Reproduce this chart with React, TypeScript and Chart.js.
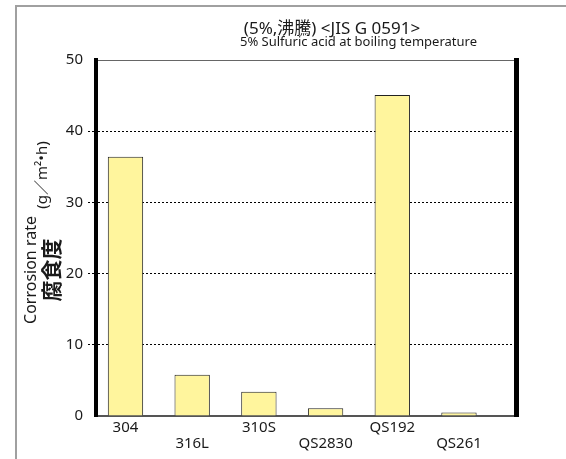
import React, { useEffect, useRef } from 'react';
import { Chart, registerables } from 'chart.js';

Chart.register(...registerables);

const categories = ['304', '316L', '310S', 'QS2830', 'QS192', 'QS261'];
const corrosionRates = [36.4, 5.8, 3.4, 1.1, 45.1, 0.5];
const yMin = 0;
const yMax = 50;
const yStep = 10;

const titleMain = '(5%,沸騰) <JIS G 0591>';
const titleSub = '5% Sulfuric acid at boiling temperature';
const yTitleEn = 'Corrosion rate';
const yTitleJa = '腐食度';
const yTitleUnit = '(g／m²•h)';

const FONT = "'Noto Sans', 'Noto Sans CJK JP', sans-serif";
const TEXT = '#1a1a1a';

export default function App() {
  const ref = useRef<HTMLCanvasElement>(null);

  useEffect(() => {
    if (!ref.current) return;
    Chart.defaults.font.family = FONT;
    Chart.defaults.color = TEXT;

    const textPlugin = {
      id: 'texts',
      afterDraw(chart: any) {
        const ctx = chart.ctx as CanvasRenderingContext2D;
        ctx.save();
        ctx.fillStyle = TEXT;
        ctx.textBaseline = 'alphabetic';
        ctx.font = `17px ${FONT}`;
        ctx.textAlign = 'center';
        ctx.fillText(titleMain, 332, 34);
        ctx.font = `13px ${FONT}`;
        ctx.textAlign = 'right';
        ctx.fillText(titleSub, 477, 46);
        const rot = (text: string, font: string, x: number, y: number) => {
          ctx.save();
          ctx.translate(x, y);
          ctx.rotate(-Math.PI / 2);
          ctx.font = font;
          ctx.textAlign = 'center';
          ctx.textBaseline = 'middle';
          ctx.fillText(text, 0, 0);
          ctx.restore();
        };
        rot(yTitleEn, `16px ${FONT}`, 31, 270);
        rot(yTitleJa, `bold 21px ${FONT}`, 53, 270);
        rot(yTitleUnit, `15px ${FONT}`, 43, 175);
        ctx.restore();
      },
    };

    const chart = new Chart(ref.current, {
      type: 'bar',
      data: {
        datasets: [
          {
            data: categories.map((_, i) => ({ x: i, y: corrosionRates[i] })),
            backgroundColor: '#FFF59D',
            borderColor: '#222222',
            borderWidth: 1,
            barPercentage: 0.53,
            categoryPercentage: 1,
          },
        ],
      },
      options: {
        animation: false,
        responsive: true,
        maintainAspectRatio: false,
        events: [],
        layout: { padding: { top: 60, right: 50, bottom: 0, left: 0 } },
        plugins: {
          legend: { display: false },
          tooltip: { enabled: false },
          title: { display: false },
        },
        scales: {
          x: {
            type: 'linear',
            position: 'bottom',
            min: -0.442,
            max: 5.855,
            offset: false,
            afterBuildTicks: (s: any) => {
              s.ticks = categories.map((_, i) => ({ value: i }));
            },
            afterFit: (s: any) => {
              s.height = 43;
            },
            grid: { display: false, drawTicks: false, offset: false },
            border: { display: true, color: '#555555', width: 2 },
            ticks: {
              autoSkip: false,
              maxRotation: 0,
              minRotation: 0,
              padding: 3.5,
              color: TEXT,
              font: { size: 15, lineHeight: 1.07 },
              callback: (v: any) => {
                const i = Math.round(Number(v));
                const name = categories[i] ?? '';
                return i % 2 === 0 ? name : ['', name];
              },
            },
          },
          x2: {
            type: 'linear',
            position: 'top',
            display: true,
            min: 0,
            max: 1,
            afterFit: (s: any) => {
              s.height = 0;
            },
            grid: { display: false, drawTicks: false },
            ticks: { display: false },
            border: { display: true, color: '#666666', width: 1 },
          },
          y: {
            type: 'linear',
            position: 'left',
            min: yMin,
            max: yMax,
            afterFit: (s: any) => {
              s.width = 96;
            },
            ticks: { stepSize: yStep, padding: 5, color: TEXT, font: { size: 15 } },
            grid: {
              color: (c: any) =>
                c.tick && (c.tick.value === yMin || c.tick.value === yMax) ? 'rgba(0,0,0,0)' : '#000000',
              lineWidth: 1,
              drawTicks: true,
              tickLength: 8,
              tickBorderDash: [2, 2],
            },
            border: { display: true, color: '#000000', width: 4, dash: [2, 2] },
          },
          y2: {
            type: 'linear',
            position: 'right',
            display: true,
            min: yMin,
            max: yMax,
            afterFit: (s: any) => {
              s.width = 0;
            },
            grid: { display: false, drawTicks: false },
            ticks: { display: false },
            border: { display: true, color: '#000000', width: 5 },
          },
        },
      } as any,
      plugins: [textPlugin],
    });

    return () => chart.destroy();
  }, []);

  return (
    <div style={{ position: 'absolute', left: 0, top: 0, width: 566, height: 459, overflow: 'hidden' }}>
      <div
        style={{
          position: 'absolute',
          left: 15,
          top: 5,
          right: 0,
          bottom: 0,
          borderLeft: '2px solid #a0a0a0',
          borderTop: '2px solid #a0a0a0',
        }}
      />
      <div style={{ position: 'absolute', left: 0, top: 0, width: 566, height: 459 }}>
        <canvas ref={ref} />
      </div>
    </div>
  );
}
